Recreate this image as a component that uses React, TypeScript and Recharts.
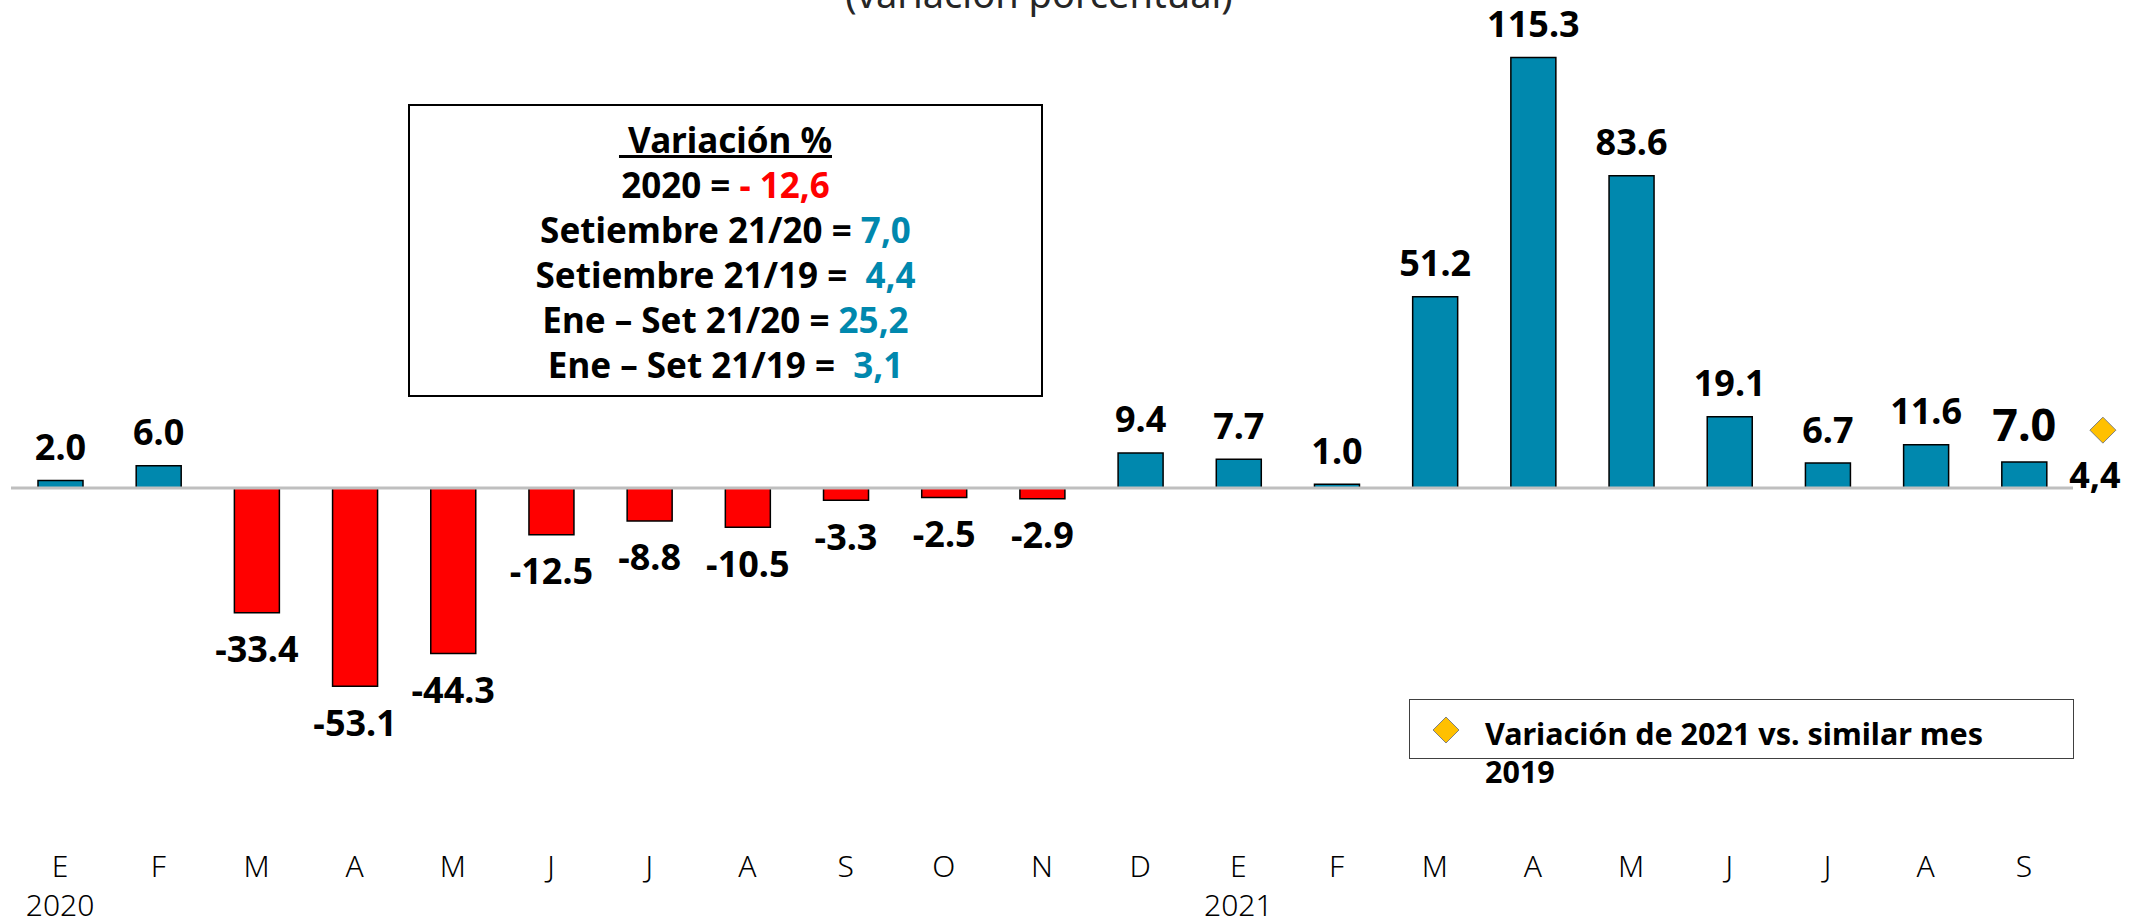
import React from "react";
import {
    ComposedChart,
    Bar,
    Scatter,
    Cell,
    XAxis,
    YAxis,
    LabelList,
    ReferenceLine,
} from "recharts";

const months = ["E", "F", "M", "A", "M", "J", "J", "A", "S", "O", "N", "D", "E", "F", "M", "A", "M", "J", "J", "A", "S"];
const years = ["2020", "", "", "", "", "", "", "", "", "", "", "", "2021", "", "", "", "", "", "", "", ""];
const variacion = [2.0, 6.0, -33.4, -53.1, -44.3, -12.5, -8.8, -10.5, -3.3, -2.5, -2.9, 9.4, 7.7, 1.0, 51.2, 115.3, 83.6, 19.1, 6.7, 11.6, 7.0];
const vs2019 = [null, null, null, null, null, null, null, null, null, null, null, null, null, null, null, null, null, null, null, null, 4.4];

const data = months.map((m, i) => ({ id: i, mes: m, anio: years[i], v: variacion[i], v19: vs2019[i] }));

const TEAL = "#0088AE";
const RED = "#FF0000";
const FONT = '"Noto Sans", "Open Sans", sans-serif';

const MonthTick = (props: any) => {
    const { x, y, payload } = props;
    const i = payload.value;
    return (
        <g>
            <text x={x} y={y + 47} textAnchor="middle" dominantBaseline="central" fontFamily={FONT} fontSize={30} fontWeight={300} fill="#000">
                {months[i]}
            </text>
            {years[i] ? (
                <text x={x} y={y + 86} textAnchor="middle" dominantBaseline="central" fontFamily={FONT} fontSize={30} fontWeight={300} fill="#000">
                    {years[i]}
                </text>
            ) : null}
        </g>
    );
};

const BarLabel = (props: any) => {
    const { x, y, width, height, value, index } = props;
    const top = Math.min(y, y + height);
    const bottom = Math.max(y, y + height);
    const size = index === variacion.length - 1 ? 45 : 36;
    const ty = value < 0 ? bottom + size / 2 + 18 : top - size / 2 - 16;
    return (
        <text x={x + width / 2} y={ty} textAnchor="middle" dominantBaseline="central" fontFamily={FONT} fontWeight={700} fontSize={size} fill="#000">
            {Number(value).toFixed(1)}
        </text>
    );
};

const Diamond = (props: any) => {
    const { cx, cy, payload } = props;
    if (payload == null || payload.v19 == null) return <g />;
    const x = cx + 79;
    const r = 13;
    return (
        <g>
            <polygon points={`${x},${cy - r} ${x + r},${cy} ${x},${cy + r} ${x - r},${cy}`} fill="#FFC000" stroke="#808080" strokeWidth={1} />
            <text x={x - 8} y={cy + 44} textAnchor="middle" dominantBaseline="central" fontFamily={FONT} fontWeight={700} fontSize={36} fill="#000">
                {String(payload.v19).replace(".", ",")}
            </text>
        </g>
    );
};

export default function App() {
    return (
        <div style={{ position: "absolute", left: 0, top: 0, width: 2144, height: 918, background: "#fff", overflow: "hidden" }}>
            <ComposedChart width={2144} height={918} data={data} margin={{ top: 10, right: 71, left: 11, bottom: 0 }}>
                <XAxis dataKey="id" interval={0} tick={<MonthTick />} tickLine={false} axisLine={false} tickSize={0} tickMargin={0} height={100} />
                <YAxis hide domain={[-88.35, 128]} allowDataOverflow />
                <YAxis yAxisId="r" hide domain={[-10, 20]} allowDataOverflow />
                <ReferenceLine y={0} stroke="#BFBFBF" strokeWidth={3} />
                <Bar dataKey="v" barSize={45} stroke="#000" strokeWidth={1.5} isAnimationActive={false}>
                    {data.map((d) => (
                        <Cell key={d.id} fill={d.v < 0 ? RED : TEAL} />
                    ))}
                    <LabelList dataKey="v" content={<BarLabel />} />
                </Bar>
                <Scatter yAxisId="r" dataKey="v19" shape={<Diamond />} isAnimationActive={false} />
            </ComposedChart>

            <svg width={2144} height={60} style={{ position: "absolute", left: 0, top: 0, pointerEvents: "none" }}>
                <text x={1039} y={8} textAnchor="middle" fontFamily={FONT} fontSize={38} fill="#262626">
                    (variación porcentual)
                </text>
            </svg>

            <div
                style={{
                    position: "absolute",
                    left: 408,
                    top: 104,
                    width: 635,
                    height: 293,
                    boxSizing: "border-box",
                    border: "2px solid #000",
                    background: "#fff",
                    paddingTop: 11,
                    fontFamily: FONT,
                    fontWeight: 700,
                    fontSize: 35,
                    lineHeight: "45px",
                    textAlign: "center",
                    whiteSpace: "pre",
                    color: "#000",
                }}
            >
                <div style={{ textDecoration: "underline" }}>{" Variación %"}</div>
                <div>
                    {"2020 = "}
                    <span style={{ color: RED }}>- 12,6</span>
                </div>
                <div>
                    {"Setiembre 21/20 = "}
                    <span style={{ color: TEAL }}>7,0</span>
                </div>
                <div>
                    {"Setiembre 21/19 =  "}
                    <span style={{ color: TEAL }}>4,4</span>
                </div>
                <div>
                    {"Ene – Set 21/20 = "}
                    <span style={{ color: TEAL }}>25,2</span>
                </div>
                <div>
                    {"Ene – Set 21/19 =  "}
                    <span style={{ color: TEAL }}>3,1</span>
                </div>
            </div>

            <div
                style={{
                    position: "absolute",
                    left: 1409,
                    top: 699,
                    width: 665,
                    height: 60,
                    boxSizing: "border-box",
                    border: "1px solid #404040",
                }}
            />
            <svg width={30} height={30} style={{ position: "absolute", left: 1431, top: 715 }}>
                <polygon points="15,2 28,15 15,28 2,15" fill="#FFC000" stroke="#808080" strokeWidth={1} />
            </svg>
            <div
                style={{
                    position: "absolute",
                    left: 1485,
                    top: 714,
                    fontFamily: FONT,
                    fontWeight: 700,
                    fontSize: 30.5,
                    lineHeight: "38px",
                    color: "#000",
                    whiteSpace: "nowrap",
                }}
            >
                Variación de 2021 vs. similar mes
                <br />
                2019
            </div>
        </div>
    );
}
